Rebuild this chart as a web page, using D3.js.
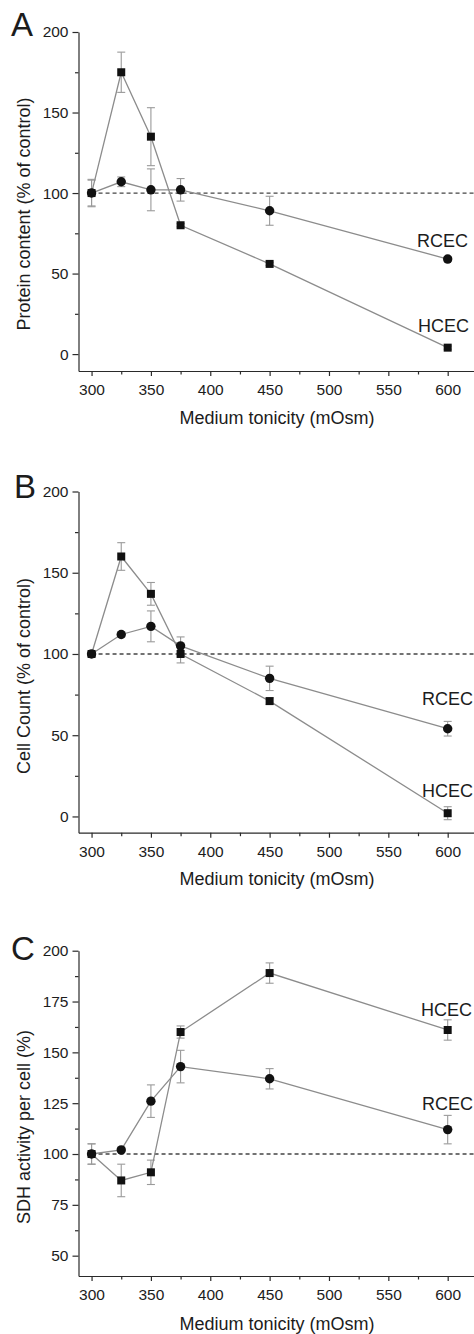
<html>
<head>
<title>Tonicity panels</title>
<script src="https://d3js.org/d3.v7.min.js"></script>
<style>
  body { margin: 0; background: white; }
  text { font-family: Arial, "Liberation Sans", Helvetica, sans-serif; fill: #1c1c1c; }
  .axis path, .axis line { stroke: #2a2a2a; stroke-width: 1.2px; }
  .axis text { font-size: 15.5px; fill: #1c1c1c; }
  .series-line { fill: none; stroke: #8c8c8c; stroke-width: 1.3px; }
  .err { stroke: #9a9a9a; stroke-width: 1.1px; }
  .ref { stroke: #444; stroke-width: 1.3px; stroke-dasharray: 4,3; }
  .title { font-size: 18px; }
  .letter { font-size: 33px; }
  .label { font-size: 18px; }
</style>
</head>
<body>
<svg id="fig" width="474" height="1334"></svg>
<script>
// x values (medium tonicity, mOsm)
const tonicity = [300, 325, 350, 375, 450, 600];
const xTicks = [300, 350, 400, 450, 500, 550, 600];
const xMinor = [325, 375, 425, 475, 525, 575, 625];

// A - protein content (% of control)
const proteinHCEC = [100, 175, 135, 80, 56, 4];
const proteinHCECErr = [8, 12.5, 18, 1, 1, 1];
const proteinRCEC = [100, 107, 102, 102, 89, 59];
const proteinRCECErr = [8.5, 3, 13, 7, 9, 1.5];

// B - cell count (% of control)
const cellHCEC = [100, 160, 137, 100, 71, 2];
const cellHCECErr = [1.5, 8.5, 7, 5.5, 2, 4];
const cellRCEC = [100, 112, 117, 105, 85, 54];
const cellRCECErr = [1, 1.5, 9.5, 5.5, 7.5, 4.5];

// C - SDH activity per cell (%)
const sdhHCEC = [100, 87, 91, 160, 189, 161];
const sdhHCECErr = [5, 8, 6, 3, 5, 5];
const sdhRCEC = [100, 102, 126, 143, 137, 112];
const sdhRCECErr = [5, 1, 8, 8, 5, 7];

const tickAB = [0, 50, 100, 150, 200];
const minorAB = [25, 75, 125, 175];
const tickC = [50, 75, 100, 125, 150, 175, 200];
const minorC = [62.5, 87.5, 112.5, 137.5, 162.5, 187.5];

const svg = d3.select("#fig");
const x = d3.scaleLinear().domain([289, 630]).range([78.5, 483.3]);

const panels = [
  { letter: "A", ytitle: "Protein content (% of control)", top: 32, bottom: 371, yDomain: [-10.5, 200],
    ticks: tickAB, minor: minorAB, hcec: proteinHCEC, hcecErr: proteinHCECErr, rcec: proteinRCEC, rcecErr: proteinRCECErr,
    letterPos: [11, 36], ytitleY: 214, xtitleY: 424,
    labels: [{t: "RCEC", x: 417, y: 247}, {t: "HCEC", x: 418, y: 332}] },
  { letter: "B", ytitle: "Cell Count (% of control)", top: 491.5, bottom: 832.7, yDomain: [-10, 200],
    ticks: tickAB, minor: minorAB, hcec: cellHCEC, hcecErr: cellHCECErr, rcec: cellRCEC, rcecErr: cellRCECErr,
    letterPos: [14, 498], ytitleY: 676, xtitleY: 885,
    labels: [{t: "RCEC", x: 422, y: 705}, {t: "HCEC", x: 422, y: 797}] },
  { letter: "C", ytitle: "SDH activity per cell (%)", top: 950.7, bottom: 1276, yDomain: [40, 200],
    ticks: tickC, minor: minorC, hcec: sdhHCEC, hcecErr: sdhHCECErr, rcec: sdhRCEC, rcecErr: sdhRCECErr,
    letterPos: [11, 960], ytitleY: 1127, xtitleY: 1330,
    labels: [{t: "HCEC", x: 421, y: 1016}, {t: "RCEC", x: 422, y: 1110}] }
];

function drawPanel(p) {
  const y = d3.scaleLinear().domain(p.yDomain).range([p.bottom, p.top]);
  const g = svg.append("g");

  // axes (major + minor ticks)
  g.append("g").attr("class", "axis").attr("transform", "translate(0," + p.bottom + ")")
    .call(d3.axisBottom(x).tickValues(xTicks).tickSize(5).tickSizeOuter(0).tickPadding(8));
  g.append("g").attr("class", "axis").attr("transform", "translate(0," + p.bottom + ")")
    .call(d3.axisBottom(x).tickValues(xMinor).tickSize(3.5).tickSizeOuter(0).tickFormat(""))
    .select(".domain").remove();
  g.append("g").attr("class", "axis").attr("transform", "translate(" + x.range()[0] + ",0)")
    .call(d3.axisLeft(y).tickValues(p.ticks).tickSize(6).tickSizeOuter(0).tickPadding(4));
  g.append("g").attr("class", "axis").attr("transform", "translate(" + x.range()[0] + ",0)")
    .call(d3.axisLeft(y).tickValues(p.minor).tickSize(3.5).tickFormat(""))
    .select(".domain").remove();

  // 100 % reference
  g.append("line").attr("class", "ref")
    .attr("x1", x(300)).attr("x2", 474)
    .attr("y1", y(100)).attr("y2", y(100));

  const series = [
    { vals: p.hcec, err: p.hcecErr, shape: "square" },
    { vals: p.rcec, err: p.rcecErr, shape: "circle" }
  ];

  series.forEach(s => {
    const pts = tonicity.map((t, i) => ({ t: t, v: s.vals[i], e: s.err[i] }));
    const eb = g.append("g");
    pts.forEach(d => {
      eb.append("line").attr("class", "err").attr("x1", x(d.t)).attr("x2", x(d.t)).attr("y1", y(d.v - d.e)).attr("y2", y(d.v + d.e));
      [d.v - d.e, d.v + d.e].forEach(v => {
        eb.append("line").attr("class", "err").attr("x1", x(d.t) - 4).attr("x2", x(d.t) + 4).attr("y1", y(v)).attr("y2", y(v));
      });
    });
    g.append("path").datum(pts).attr("class", "series-line")
      .attr("d", d3.line().x(d => x(d.t)).y(d => y(d.v)));
  });

  series.forEach(s => {
    const pts = tonicity.map((t, i) => ({ t: t, v: s.vals[i] }));
    if (s.shape === "square") {
      g.selectAll(null).data(pts).join("rect")
        .attr("x", d => x(d.t) - 4).attr("y", d => y(d.v) - 4)
        .attr("width", 8).attr("height", 8).attr("fill", "#111");
    } else {
      g.selectAll(null).data(pts).join("circle")
        .attr("cx", d => x(d.t)).attr("cy", d => y(d.v))
        .attr("r", 4.7).attr("fill", "#111");
    }
  });

  // texts
  g.append("text").attr("class", "letter").attr("x", p.letterPos[0]).attr("y", p.letterPos[1]).text(p.letter);
  g.append("text").attr("class", "title").attr("text-anchor", "middle")
    .attr("transform", "translate(30," + p.ytitleY + ") rotate(-90)").text(p.ytitle);
  g.append("text").attr("class", "title").attr("text-anchor", "middle")
    .attr("x", 277).attr("y", p.xtitleY).text("Medium tonicity (mOsm)");
  p.labels.forEach(l => {
    g.append("text").attr("class", "label").attr("x", l.x).attr("y", l.y).text(l.t);
  });
}

panels.forEach(drawPanel);
</script>
</body>
</html>
